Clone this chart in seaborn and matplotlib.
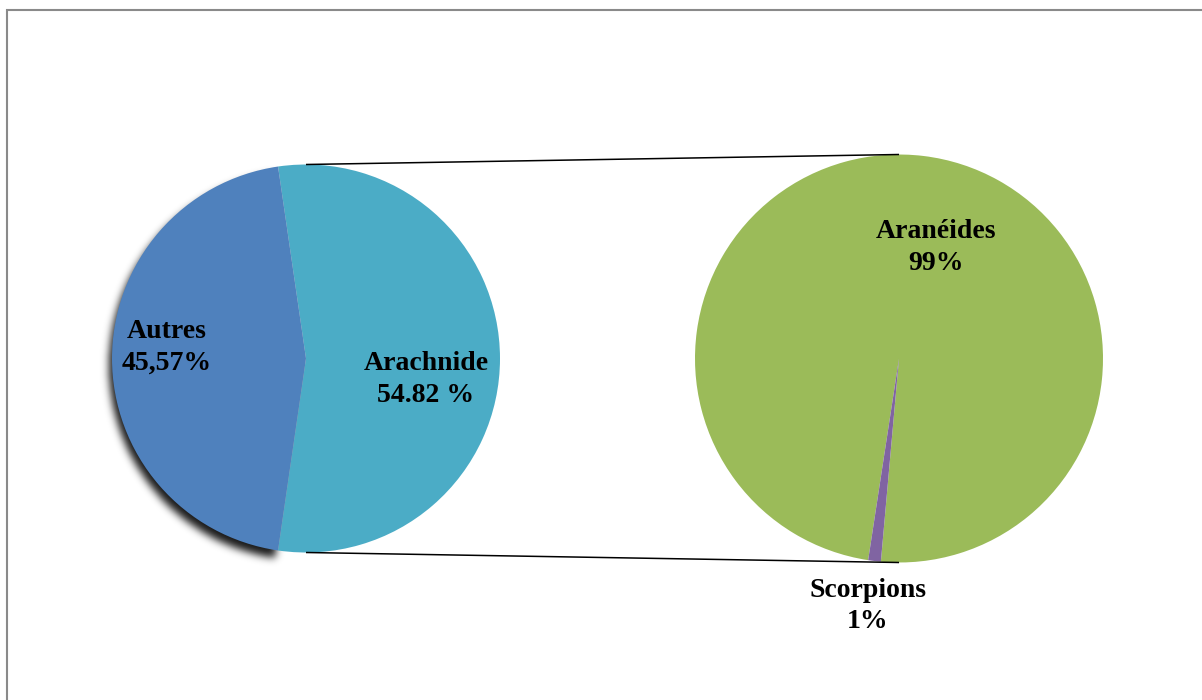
import numpy as np
import matplotlib
matplotlib.use("Agg")
import matplotlib.pyplot as plt
from matplotlib.patches import Rectangle
import seaborn as sns

# Composition of the captured fauna (main pie) and breakdown of the arachnids (secondary pie)
main_names = ["Arachnide", "Autres"]
main_values = [54.82, 45.57]
main_labels = ["54.82 %", "45,57%"]

sub_names = ["Aranéides", "Scorpions"]
sub_values = [99, 1]
sub_labels = ["99%", "1%"]

sns.set_theme(style="white")
plt.rcParams["font.family"] = ["Liberation Serif", "DejaVu Serif"]

main_colors = ["#4BACC6", "#4F81BD"]
sub_colors = ["#9BBB59", "#8064A2"]

W, H = 1202, 700
fig = plt.figure(figsize=(W / 100, H / 100), dpi=100)
ax = fig.add_axes([0, 0, 1, 1])

# pie geometry (axes units are pixels, y pointing up)
c1, r1 = (306, 341.5), 194
c2, r2 = (899, 341.5), 204
start1 = -98.3

wedges, _ = ax.pie(main_values, colors=main_colors, startangle=start1, center=c1,
                   radius=r1, wedgeprops=dict(linewidth=0, zorder=2), normalize=True)
ax.pie(sub_values, colors=sub_colors, startangle=264.9, center=c2, radius=r2,
       wedgeprops=dict(linewidth=0, zorder=2))

# soft drop shadow cast by the "Autres" wedge
autres = wedges[1]
a0, a1 = autres.theta1 % 360, autres.theta2 % 360
pad = 40
xs = np.arange(c1[0] - r1 - pad, c1[0] + r1 + pad)
ys = np.arange(c1[1] - r1 - pad, c1[1] + r1 + pad)
gx, gy = np.meshgrid(xs + 0.5, ys + 0.5)
sx, sy = c1[0] - 3, c1[1] - 8
d = np.hypot(gx - sx, gy - sy)
ang = np.degrees(np.arctan2(gy - sy, gx - sx)) % 360
mask = ((d <= r1) & (ang >= a0) & (ang <= a1)).astype(float)
k = np.arange(-12, 13)
kern = np.exp(-0.5 * (k / 4.0) ** 2)
kern /= kern.sum()
mask = np.apply_along_axis(lambda v: np.convolve(v, kern, mode="same"), 0, mask)
mask = np.apply_along_axis(lambda v: np.convolve(v, kern, mode="same"), 1, mask)
shadow = np.zeros(gx.shape + (4,))
shadow[..., 3] = 0.9 * mask
ax.imshow(shadow, extent=(xs[0], xs[-1] + 1, ys[0], ys[-1] + 1),
          origin="lower", zorder=1, interpolation="bilinear")

# connector lines between the pies
for s in (1, -1):
    ax.plot([c1[0], c2[0]], [c1[1] + s * r1, c2[1] + s * r2],
            color="black", lw=1.1, solid_capstyle="butt", zorder=3)

# labels: (name, value label, x, first baseline)
label_pos = [
    (main_names[1], main_labels[1], 167, 700 - 338),
    (main_names[0], main_labels[0], 426, 700 - 370),
    (sub_names[0], sub_labels[0], 936, 700 - 238),
    (sub_names[1], sub_labels[1], 868, 700 - 597),
]
for name, val, x, y in label_pos:
    ax.text(x, y, name, ha="center", va="baseline", fontsize=20,
            fontweight="bold", color="black", zorder=4)
    ax.text(x, y - 31.5, val, ha="center", va="baseline", fontsize=20,
            fontweight="bold", color="black", zorder=4)

# chart area border
ax.add_patch(Rectangle((6.8, -20), W + 20, H - 9.8 + 20, fill=False,
                       edgecolor="#8a8a8a", lw=1.5, zorder=5))

ax.set_xlim(0, W)
ax.set_ylim(0, H)
ax.set_aspect("equal")
ax.axis("off")

fig.savefig("out.png", dpi=100)
